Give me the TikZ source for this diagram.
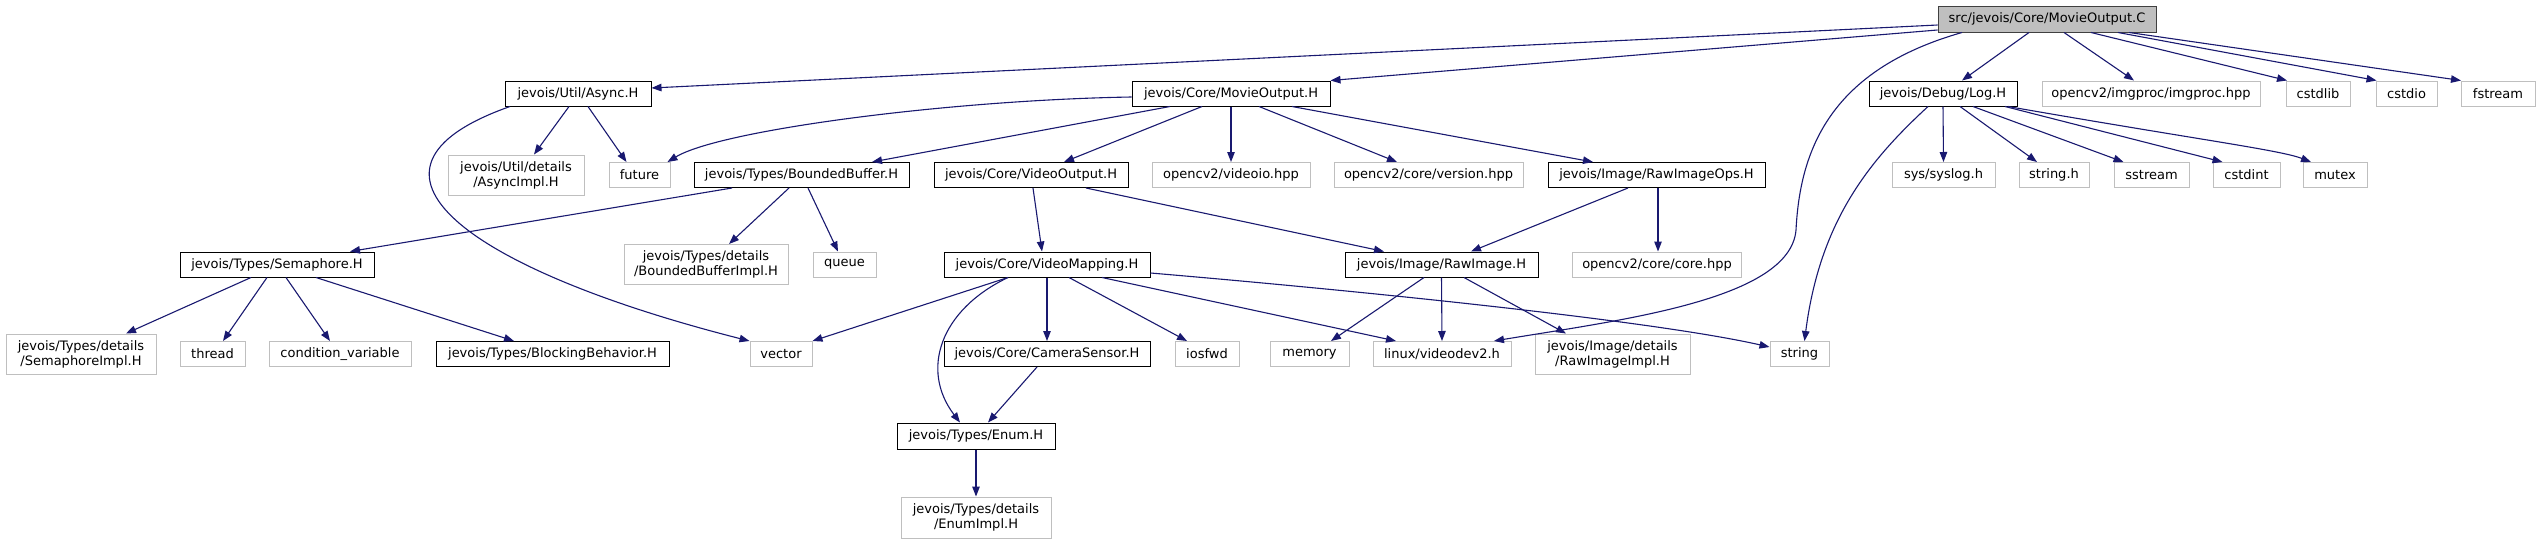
\documentclass[tikz,border=0pt]{standalone}
\usepackage{fontspec}
\setmainfont{DejaVu Sans}
\usetikzlibrary{arrows.meta}
\definecolor{edgeblue}{HTML}{191970}
\definecolor{lgray}{HTML}{BFBFBF}
\definecolor{dgray}{HTML}{404040}
\begin{document}
\begin{tikzpicture}[x=1pt,y=-1pt,
  every node/.style={font=\fontsize{13}{15}\selectfont, inner sep=0pt, align=center, minimum height=25pt},
  blk/.style={draw=black, line width=1pt, fill=white},
  gry/.style={draw=lgray, line width=1pt, fill=white},
  rootbox/.style={draw=dgray, line width=1pt, fill=lgray},
  dep/.style={draw=edgeblue, line width=1.1pt, -{Triangle[length=10pt,width=7.5pt]}}]
\useasboundingbox[fill=white] (0,0) rectangle (2540,544);
% root
\node[rootbox, minimum width=218pt, minimum height=26pt] (root) at (2047,19) {src/jevois/Core/MovieOutput.C};
% row 1
\node[blk, minimum width=146pt] (async) at (578,93.5) {jevois/Util/Async.H};
\node[blk, minimum width=198pt] (mout) at (1231,93.5) {jevois/Core/MovieOutput.H};
\node[blk, minimum width=148pt] (log) at (1943,93.5) {jevois/Debug/Log.H};
\node[gry, minimum width=218pt] (imgproc) at (2151,93.5) {opencv2/imgproc/imgproc.hpp};
\node[gry, minimum width=64pt] (cstdlib) at (2318,93.5) {cstdlib};
\node[gry, minimum width=61pt] (cstdio) at (2406.5,93.5) {cstdio};
\node[gry, minimum width=74pt] (fstream) at (2498,93.5) {fstream};
% row 2
\node[gry, minimum width=136pt, minimum height=40pt] (asyncimpl) at (516,175) {jevois/Util/details\\/AsyncImpl.H};
\node[gry, minimum width=61pt] (future) at (639.5,175) {future};
\node[blk, minimum width=215pt] (bbuf) at (801.5,175) {jevois/Types/BoundedBuffer.H};
\node[blk, minimum width=194pt] (vout) at (1031,175) {jevois/Core/VideoOutput.H};
\node[gry, minimum width=158pt] (videoio) at (1231,175) {opencv2/videoio.hpp};
\node[gry, minimum width=189pt] (version) at (1428.5,175) {opencv2/core/version.hpp};
\node[blk, minimum width=217pt] (rawops) at (1656.5,175) {jevois/Image/RawImageOps.H};
\node[gry, minimum width=103pt] (syslog) at (1943.5,175) {sys/syslog.h};
\node[gry, minimum width=70pt] (stringh) at (2054,175) {string.h};
\node[gry, minimum width=75pt] (sstream) at (2151.5,175) {sstream};
\node[gry, minimum width=67pt] (cstdint) at (2246.5,175) {cstdint};
\node[gry, minimum width=64pt] (mutex) at (2335,175) {mutex};
% row 3
\node[blk, minimum width=194pt] (sema) at (277,264.5) {jevois/Types/Semaphore.H};
\node[gry, minimum width=164pt, minimum height=40pt] (bbimpl) at (706,264.5) {jevois/Types/details\\/BoundedBufferImpl.H};
\node[gry, minimum width=63pt] (queue) at (844.5,264.5) {queue};
\node[blk, minimum width=206pt] (vmap) at (1047,264.5) {jevois/Core/VideoMapping.H};
\node[blk, minimum width=193pt] (rawimg) at (1441.5,264.5) {jevois/Image/RawImage.H};
\node[gry, minimum width=169pt] (corehpp) at (1657,264.5) {opencv2/core/core.hpp};
% row 4
\node[gry, minimum width=150pt, minimum height=40pt] (semimpl) at (81,354) {jevois/Types/details\\/SemaphoreImpl.H};
\node[gry, minimum width=65pt] (thread) at (212.5,354) {thread};
\node[gry, minimum width=142pt] (condvar) at (340,354) {condition\_variable};
\node[blk, minimum width=233pt] (blocking) at (552.5,354) {jevois/Types/BlockingBehavior.H};
\node[gry, minimum width=62pt] (vector) at (781,354) {vector};
\node[blk, minimum width=206pt] (camsens) at (1047,354) {jevois/Core/CameraSensor.H};
\node[gry, minimum width=64pt] (iosfwd) at (1207,354) {iosfwd};
\node[gry, minimum width=79pt] (memory) at (1309.5,354) {memory};
\node[gry, minimum width=138pt] (vdev) at (1442,354) {linux/videodev2.h};
\node[gry, minimum width=155pt, minimum height=40pt] (rawimpl) at (1612.5,354) {jevois/Image/details\\/RawImageImpl.H};
\node[gry, minimum width=59pt] (string) at (1799.5,354) {string};
% rows 5-6
\node[blk, minimum width=158pt, minimum height=26pt] (enum) at (976,436) {jevois/Types/Enum.H};
\node[gry, minimum width=150pt, minimum height=41pt] (enumimpl) at (976,517.5) {jevois/Types/details\\/EnumImpl.H};
% edges from root
\draw[dep] ([yshift=-6pt]root.west) -- ([yshift=5.5pt]async.east);
\draw[dep] ([yshift=-11pt]root.west) -- (mout.north east);
\draw[dep] ([xshift=-85pt]root.south) .. controls (1830,70) and (1800,150) .. (1796,230) .. controls (1790,300) and (1620,320) .. ([xshift=52pt]vdev.north);
\draw[dep] ([xshift=-18pt]root.south) -- ([xshift=19pt]log.north);
\draw[dep] ([xshift=17pt]root.south) -- ([xshift=-17pt]imgproc.north);
\draw[dep] ([xshift=44pt]root.south) -- ([xshift=-31pt]cstdlib.north);
\draw[dep] ([xshift=71pt]root.south) -- ([xshift=-30pt]cstdio.north);
\draw[dep] ([xshift=82pt]root.south) -- ([xshift=-37pt]fstream.north);
% Async.H
\draw[dep] ([xshift=-9pt]async.south) -- ([xshift=18pt]asyncimpl.north);
\draw[dep] ([xshift=10pt]async.south) -- ([xshift=-13pt]future.north);
\draw[dep] ([xshift=-68pt]async.south) .. controls (330,170) and (470,270) .. (vector.north west);
% MovieOutput.H
\draw[dep] ([yshift=-3.5pt]mout.west) .. controls (950,100) and (720,130) .. ([xshift=-3pt]future.north east);
\draw[dep] ([xshift=-61pt]mout.south) -- ([xshift=70.5pt]bbuf.north);
\draw[dep] ([xshift=-29pt]mout.south) -- ([xshift=33pt]vout.north);
\draw[dep] (mout.south) -- (videoio.north);
\draw[dep] ([xshift=28pt]mout.south) -- ([xshift=-31.5pt]version.north);
\draw[dep] ([xshift=61pt]mout.south) -- ([xshift=-63.5pt]rawops.north);
% Log.H
\draw[dep] (log.south) -- (syslog.north);
\draw[dep] ([xshift=17pt]log.south) -- ([xshift=-17pt]stringh.north);
\draw[dep] ([xshift=30pt]log.south) -- ([xshift=-28pt]sstream.north);
\draw[dep] ([xshift=62pt]log.south) -- ([xshift=-24pt]cstdint.north);
\draw[dep] ([xshift=65pt]log.south) .. controls (2200,140) and (2280,150) .. ([xshift=-24pt]mutex.north);
\draw[dep] ([xshift=-15pt]log.south) .. controls (1870,160) and (1820,220) .. ([xshift=5pt]string.north);
% BoundedBuffer.H
\draw[dep] ([xshift=-69.5pt]bbuf.south) -- ([xshift=73pt]sema.north);
\draw[dep] ([xshift=-12.5pt]bbuf.south) -- ([xshift=23pt]bbimpl.north);
\draw[dep] ([xshift=6.5pt]bbuf.south) -- ([xshift=-6.5pt]queue.north);
% VideoOutput.H
\draw[dep] ([xshift=2pt]vout.south) -- ([xshift=-5pt]vmap.north);
\draw[dep] ([xshift=55pt]vout.south) -- ([xshift=-57.5pt]rawimg.north);
% RawImageOps.H
\draw[dep] ([xshift=-28.5pt]rawops.south) -- ([xshift=29.5pt]rawimg.north);
\draw[dep] ([xshift=1.5pt]rawops.south) -- ([xshift=1pt]corehpp.north);
% Semaphore.H
\draw[dep] ([xshift=-26pt]sema.south) -- ([xshift=45pt]semimpl.north);
\draw[dep] ([xshift=-10pt]sema.south) -- ([xshift=10.5pt]thread.north);
\draw[dep] ([xshift=9pt]sema.south) -- ([xshift=-10pt]condvar.north);
\draw[dep] ([xshift=39pt]sema.south) -- ([xshift=-38.5pt]blocking.north);
% VideoMapping.H
\draw[dep] ([xshift=-39pt]vmap.south) -- (vector.north east);
\draw[dep] ([xshift=-39pt]vmap.south) .. controls (940,310) and (920,370) .. ([xshift=-16pt]enum.north);
\draw[dep] (vmap.south) -- (camsens.north);
\draw[dep] ([xshift=22pt]vmap.south) -- ([xshift=-20pt]iosfwd.north);
\draw[dep] ([xshift=55pt]vmap.south) -- ([xshift=-46pt]vdev.north);
\draw[dep] ([yshift=-8.5pt]vmap.east) .. controls (1350,290) and (1650,320) .. ([yshift=7pt]string.west);
% RawImage.H
\draw[dep] ([xshift=-17.5pt]rawimg.south) -- ([xshift=21.5pt]memory.north);
\draw[dep] (rawimg.south) -- (vdev.north);
\draw[dep] ([xshift=22.5pt]rawimg.south) -- ([xshift=-46.5pt]rawimpl.north);
% CameraSensor.H, Enum.H
\draw[dep] ([xshift=-10pt]camsens.south) -- ([xshift=12pt]enum.north);
\draw[dep] (enum.south) -- (enumimpl.north);
\end{tikzpicture}
\end{document}
